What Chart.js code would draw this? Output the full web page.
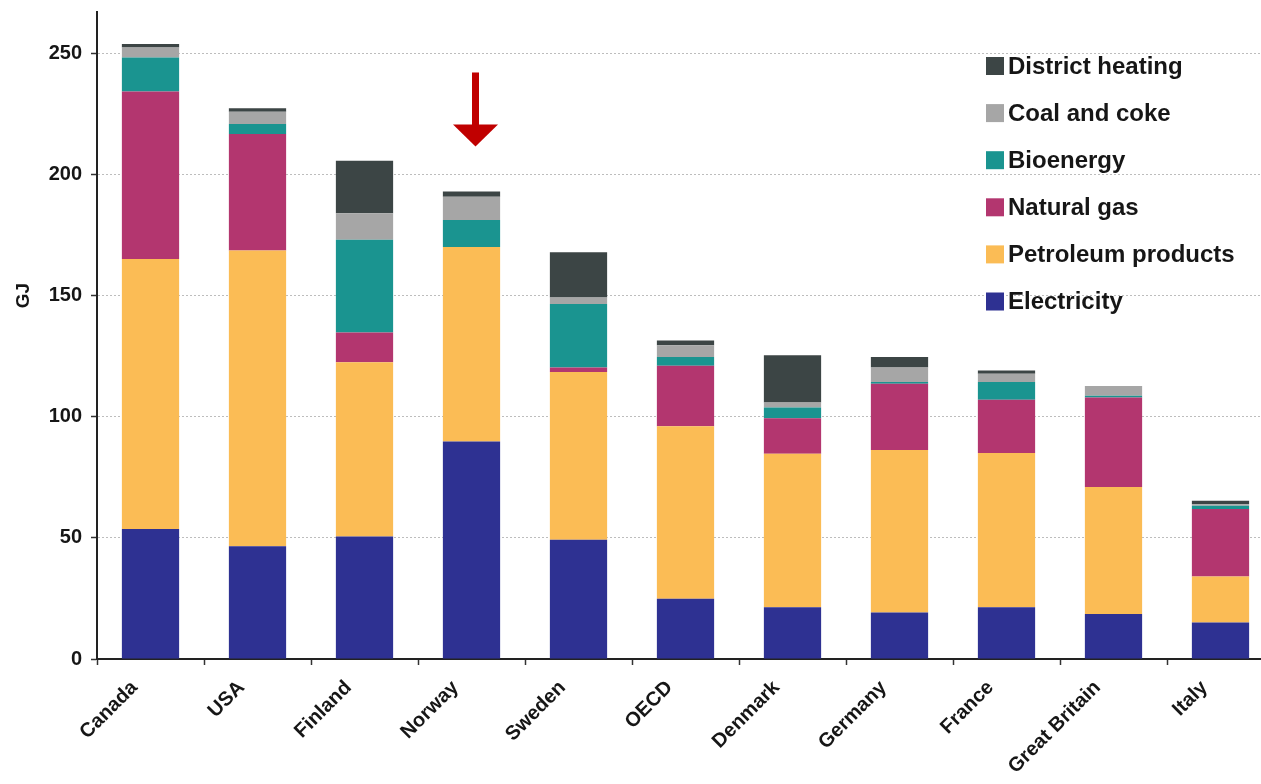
<!DOCTYPE html>
<html>
<head>
<meta charset="utf-8">
<script src="https://cdn.jsdelivr.net/npm/chart.js@4/dist/chart.umd.min.js"></script>
<style>
  html, body { margin: 0; padding: 0; background: #ffffff; overflow: hidden; }
  #wrap { position: relative; width: 1274px; height: 784px; }
</style>
</head>
<body>
<div id="wrap"><canvas id="energy-chart"></canvas></div>
<script>
const countries = ["Canada", "USA", "Finland", "Norway", "Sweden", "OECD", "Denmark", "Germany", "France", "Great Britain", "Italy"];
const electricity = [53.6, 46.5, 50.6, 89.8, 49.2, 24.9, 21.4, 19.2, 21.4, 18.6, 15.1];
const petroleumProducts = [111.5, 122.1, 71.9, 80.2, 69.2, 71.1, 63.3, 67.1, 63.6, 52.4, 18.9];
const naturalGas = [69.1, 48.1, 12.2, 0, 1.9, 25.0, 14.7, 27.3, 22.0, 36.9, 27.9];
const bioenergy = [14.0, 4.1, 38.3, 11.2, 26.2, 3.6, 4.4, 0.7, 7.3, 0.7, 1.3];
const coalAndCoke = [4.1, 5.0, 11.0, 9.6, 2.7, 4.9, 2.1, 6.0, 3.4, 4.1, 0.7];
const districtHeating = [1.5, 1.5, 21.6, 2.1, 18.7, 1.9, 19.4, 4.3, 1.4, 0, 1.4];
const yTicks = [0, 50, 100, 150, 200, 250];

const FONT = "Arial, 'Liberation Sans', sans-serif";
const TEXT_COLOR = "#161616";

const SERIES_COLORS = {
  electricity: "#2e3192",
  petroleum: "#fbbc55",
  gas: "#b3366f",
  bio: "#1a9490",
  coal: "#a6a6a6",
  district: "#3c4545"
};

// legend drawn inside the plot, top-right, top entry = top of stack
const insideLegend = {
  id: "insideLegend",
  afterDraw(chart) {
    const ctx = chart.ctx;
    const items = chart.data.datasets.slice().reverse();
    ctx.save();
    ctx.font = `bold 24px ${FONT}`;
    ctx.textBaseline = "middle";
    ctx.textAlign = "left";
    items.forEach((ds, i) => {
      const cy = 66 + i * 47.1;
      ctx.fillStyle = ds.backgroundColor;
      ctx.fillRect(986, cy - 9, 18, 18);
      ctx.fillStyle = TEXT_COLOR;
      ctx.fillText(ds.label, 1008, cy + 1);
    });
    ctx.restore();
  }
};

// red arrow pointing at Norway + the GJ axis title
const annotations = {
  id: "annotations",
  afterDraw(chart) {
    const ctx = chart.ctx;
    const x = chart.scales.x.getPixelForValue(3) + 4;
    const tip = chart.scales.y.getPixelForValue(211.5);
    ctx.save();
    ctx.fillStyle = "#c00000";
    ctx.fillRect(x - 3.5, tip - 74, 7, 53);
    ctx.beginPath();
    ctx.moveTo(x - 22.5, tip - 22);
    ctx.lineTo(x + 22.5, tip - 22);
    ctx.lineTo(x, tip);
    ctx.closePath();
    ctx.fill();

    ctx.translate(chart.chartArea.left - 73, chart.scales.y.getPixelForValue(150));
    ctx.rotate(-Math.PI / 2);
    ctx.font = `bold 19px ${FONT}`;
    ctx.fillStyle = TEXT_COLOR;
    ctx.textAlign = "center";
    ctx.textBaseline = "middle";
    ctx.fillText("GJ", 0, 0);
    ctx.restore();
  }
};

function makeSeries(label, data, color) {
  return {
    label,
    data,
    backgroundColor: color,
    borderWidth: 0,
    categoryPercentage: 1,
    barPercentage: 0.535
  };
}

new Chart(document.getElementById("energy-chart"), {
  type: "bar",
  data: {
    labels: countries,
    datasets: [
      makeSeries("Electricity", electricity, SERIES_COLORS.electricity),
      makeSeries("Petroleum products", petroleumProducts, SERIES_COLORS.petroleum),
      makeSeries("Natural gas", naturalGas, SERIES_COLORS.gas),
      makeSeries("Bioenergy", bioenergy, SERIES_COLORS.bio),
      makeSeries("Coal and coke", coalAndCoke, SERIES_COLORS.coal),
      makeSeries("District heating", districtHeating, SERIES_COLORS.district)
    ]
  },
  options: {
    responsive: true,
    maintainAspectRatio: false,
    animation: false,
    layout: {
      padding: { top: 12, right: 0, bottom: 0, left: 0 }
    },
    plugins: {
      legend: { display: false },
      tooltip: { enabled: false }
    },
    scales: {
      x: {
        stacked: true,
        offset: true,
        afterFit(scale) {
          scale.height = 125;
        },
        grid: {
          offset: true,
          drawOnChartArea: false,
          drawTicks: true,
          tickLength: 6,
          tickColor: "#333333",
          tickWidth: 1.5
        },
        border: {
          display: true,
          color: "#222222",
          width: 2
        },
        ticks: {
          color: TEXT_COLOR,
          font: { family: FONT, size: 20, weight: "bold" },
          minRotation: 45,
          maxRotation: 45,
          padding: 11,
          labelOffset: -16,
          autoSkip: false
        }
      },
      y: {
        stacked: true,
        min: 0,
        max: 267,
        afterFit(scale) {
          scale.width = 97;
          scale.paddingTop = 0;
          scale.paddingBottom = 0;
        },
        afterBuildTicks(scale) {
          scale.ticks = yTicks.map((value) => ({ value }));
        },
        grid: {
          color: "#bdbdbd",
          lineWidth: 1,
          drawTicks: true,
          tickLength: 6,
          tickColor: "#333333",
          tickBorderDash: [],
          tickWidth: 1.5
        },
        border: {
          display: true,
          color: "#222222",
          width: 2,
          dash: [2, 2]
        },
        ticks: {
          color: TEXT_COLOR,
          font: { family: FONT, size: 20, weight: "bold" },
          padding: 9
        }
      }
    }
  },
  plugins: [insideLegend, annotations]
});
</script>
</body>
</html>
